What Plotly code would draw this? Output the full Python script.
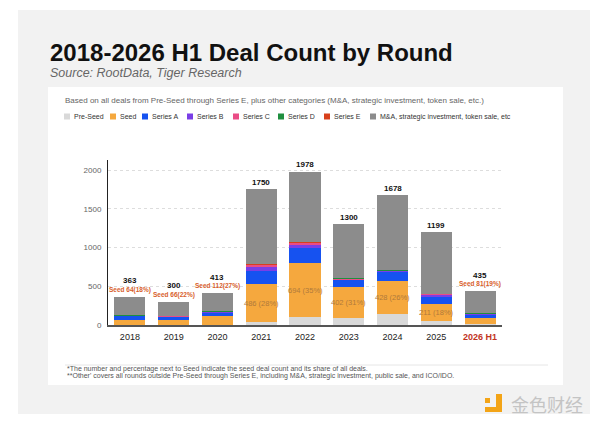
import plotly.graph_objects as go

years = ["2018", "2019", "2020", "2021", "2022", "2023", "2024", "2025", "2026 H1"]
pre_seed = [0, 0, 5, 40, 100, 95, 140, 55, 10]
seed = [64, 66, 112, 486, 694, 402, 428, 211, 81]
series_a = [55, 45, 50, 165, 195, 85, 120, 95, 40]
series_b = [6, 5, 8, 60, 45, 10, 12, 30, 12]
series_c = [2, 2, 3, 25, 25, 8, 8, 12, 5]
series_d = [1, 1, 1, 5, 6, 2, 1, 2, 1]
series_e = [0, 0, 0, 1, 1, 0, 0, 0, 0]
totals = [363, 300, 413, 1750, 1978, 1300, 1678, 1199, 435]
seed_share = ["18%", "22%", "27%", "28%", "35%", "31%", "26%", "18%", "19%"]
other = [t - p - s - a - b - c - d - e for t, p, s, a, b, c, d, e in
         zip(totals, pre_seed, seed, series_a, series_b, series_c, series_d, series_e)]
outside_label_years = ["2018", "2019", "2020", "2026 H1"]

series_names = ["Pre-Seed", "Seed", "Series A", "Series B", "Series C", "Series D", "Series E",
                "M&A, strategic investment, token sale, etc"]
series_vals = [pre_seed, seed, series_a, series_b, series_c, series_d, series_e, other]
colors = ["#d9d9d9", "#f5a83e", "#1652f0", "#7a3ee6", "#ea4c86", "#1f8f3f", "#d8401c", "#8c8c8c"]
legend_x = [64, 110, 142, 187, 233, 278, 324, 370]
y_ticks = [0, 500, 1000, 1500, 2000]

# plot area in pixels
L, R, T, B = 108, 502, 160, 325
W_PX, H_PX = 600, 427


def xp(px):
    return (px - L) / (R - L)


def yp(py):
    return (B - py) / (B - T)


fig = go.Figure()
for name, vals, col in zip(series_names, series_vals, colors):
    fig.add_trace(go.Bar(x=years, y=vals, name=name, marker=dict(color=col, line=dict(width=0)),
                         width=0.71, showlegend=False, hoverinfo="y+name"))

shapes = []
annotations = []

# background panel and card
shapes.append(dict(type="rect", xref="paper", yref="paper", x0=xp(18), x1=xp(590), y0=yp(10), y1=yp(414),
                   fillcolor="#f2f2f2", line=dict(width=0), layer="below"))
shapes.append(dict(type="rect", xref="paper", yref="paper", x0=xp(48), x1=xp(563), y0=yp(87), y1=yp(385),
                   fillcolor="#ffffff", line=dict(width=0), layer="below"))
# footnote separator
shapes.append(dict(type="line", xref="paper", yref="paper", x0=xp(65), x1=xp(548), y0=yp(365), y1=yp(365),
                   line=dict(color="#e6e6e6", width=1), layer="below"))

# title & subtitle
annotations.append(dict(text="<b>2018-2026 H1 Deal Count by Round</b>", xref="paper", yref="paper",
                        x=xp(48), y=yp(52), xanchor="left", yanchor="middle", showarrow=False,
                        font=dict(family="Liberation Sans", size=24, color="#111111")))
annotations.append(dict(text="<i>Source: RootData, Tiger Research</i>", xref="paper", yref="paper",
                        x=xp(48), y=yp(73), xanchor="left", yanchor="middle", showarrow=False,
                        font=dict(family="Liberation Sans", size=12.5, color="#666666")))
annotations.append(dict(text="Based on all deals from Pre-Seed through Series E, plus other categories (M&A, strategic investment, token sale, etc.)",
                        xref="paper", yref="paper", x=xp(63), y=yp(101), xanchor="left", yanchor="middle",
                        showarrow=False, font=dict(family="Liberation Sans", size=8, color="#666666")))

# legend
for name, col, lx in zip(series_names, colors, legend_x):
    shapes.append(dict(type="rect", xref="paper", yref="paper", x0=xp(lx), x1=xp(lx + 6),
                       y0=yp(119.5), y1=yp(113.5), fillcolor=col, line=dict(width=0)))
    annotations.append(dict(text=name, xref="paper", yref="paper", x=xp(lx + 8), y=yp(116.5),
                            xanchor="left", yanchor="middle", showarrow=False,
                            font=dict(family="Liberation Sans", size=7, color="#333333")))

# totals and seed labels (category axis: annotations use category index)
for i, (yr, tot, s, p, sh) in enumerate(zip(years, totals, seed, pre_seed, seed_share)):
    if yr in outside_label_years:
        annotations.append(dict(text=f"<b>{tot}</b>", x=i, y=tot, xref="x", yref="y", showarrow=False,
                                yanchor="middle", yshift=16,
                                font=dict(family="Liberation Sans", size=8, color="#111111")))
        annotations.append(dict(text=f"<b>Seed {s}({sh})</b>", x=i, y=tot, xref="x", yref="y",
                                showarrow=False, yanchor="middle", yshift=7,
                                font=dict(family="Liberation Sans", size=6.5, color="#d8602c")))
    else:
        annotations.append(dict(text=f"<b>{tot}</b>", x=i, y=tot, xref="x", yref="y", showarrow=False,
                                yanchor="middle", yshift=7,
                                font=dict(family="Liberation Sans", size=8, color="#111111")))
        annotations.append(dict(text=f"{s} ({sh})", x=i, y=p + s / 2, xref="x", yref="y",
                                showarrow=False, yanchor="middle",
                                font=dict(family="Liberation Sans", size=7.5, color="#b07a3c")))

# footnotes
annotations.append(dict(text="*The number and percentage next to Seed indicate the seed deal count and its share of all deals.",
                        xref="paper", yref="paper", x=xp(65), y=yp(368.5), xanchor="left", yanchor="middle",
                        showarrow=False, font=dict(family="Liberation Sans", size=7, color="#555555")))
annotations.append(dict(text="**Other' covers all rounds outside Pre-Seed through Series E, including M&A, strategic investment, public sale, and ICO/IDO.",
                        xref="paper", yref="paper", x=xp(65), y=yp(376), xanchor="left", yanchor="middle",
                        showarrow=False, font=dict(family="Liberation Sans", size=7, color="#555555")))

# logo
shapes.append(dict(type="rect", xref="paper", yref="paper", x0=xp(485), x1=xp(490), y0=yp(403), y1=yp(398),
                   fillcolor="#f3a417", line=dict(width=0)))
shapes.append(dict(type="rect", xref="paper", yref="paper", x0=xp(496), x1=xp(502), y0=yp(412), y1=yp(394),
                   fillcolor="#f3a417", line=dict(width=0)))
shapes.append(dict(type="rect", xref="paper", yref="paper", x0=xp(485), x1=xp(502), y0=yp(412), y1=yp(407),
                   fillcolor="#f3a417", line=dict(width=0)))
annotations.append(dict(text="金色财经", xref="paper", yref="paper", x=xp(509), y=yp(404), xanchor="left",
                        yanchor="middle", showarrow=False,
                        font=dict(family="Noto Sans CJK SC", size=18, color="#c4c4c4")))

tick_text = ['<span style="color:#c2331e"><b>2026 H1</b></span>' if y == "2026 H1" else y for y in years]

fig.update_layout(
    barmode="stack",
    width=W_PX, height=H_PX,
    margin=dict(l=L, r=W_PX - R, t=T, b=H_PX - B),
    paper_bgcolor="#ffffff", plot_bgcolor="rgba(0,0,0,0)",
    shapes=shapes, annotations=annotations, showlegend=False,
    font=dict(family="Liberation Sans"),
)
fig.update_xaxes(type="category", range=[-0.5, 8.5], showline=True, linecolor="#555555", linewidth=2,
                 ticks="", tickvals=years, ticktext=tick_text, tickfont=dict(size=9, color="#222222"),
                 showgrid=False, zeroline=False, ticklabelstandoff=2)
fig.update_yaxes(range=[0, 2130], tickvals=y_ticks, showline=True, linecolor="#222222", linewidth=1,
                 showgrid=True, gridcolor="#dddddd", griddash="dot", gridwidth=1, zeroline=False,
                 tickfont=dict(size=8, color="#666666"), ticks="", ticklabelstandoff=4)

fig.write_html("out.html")
